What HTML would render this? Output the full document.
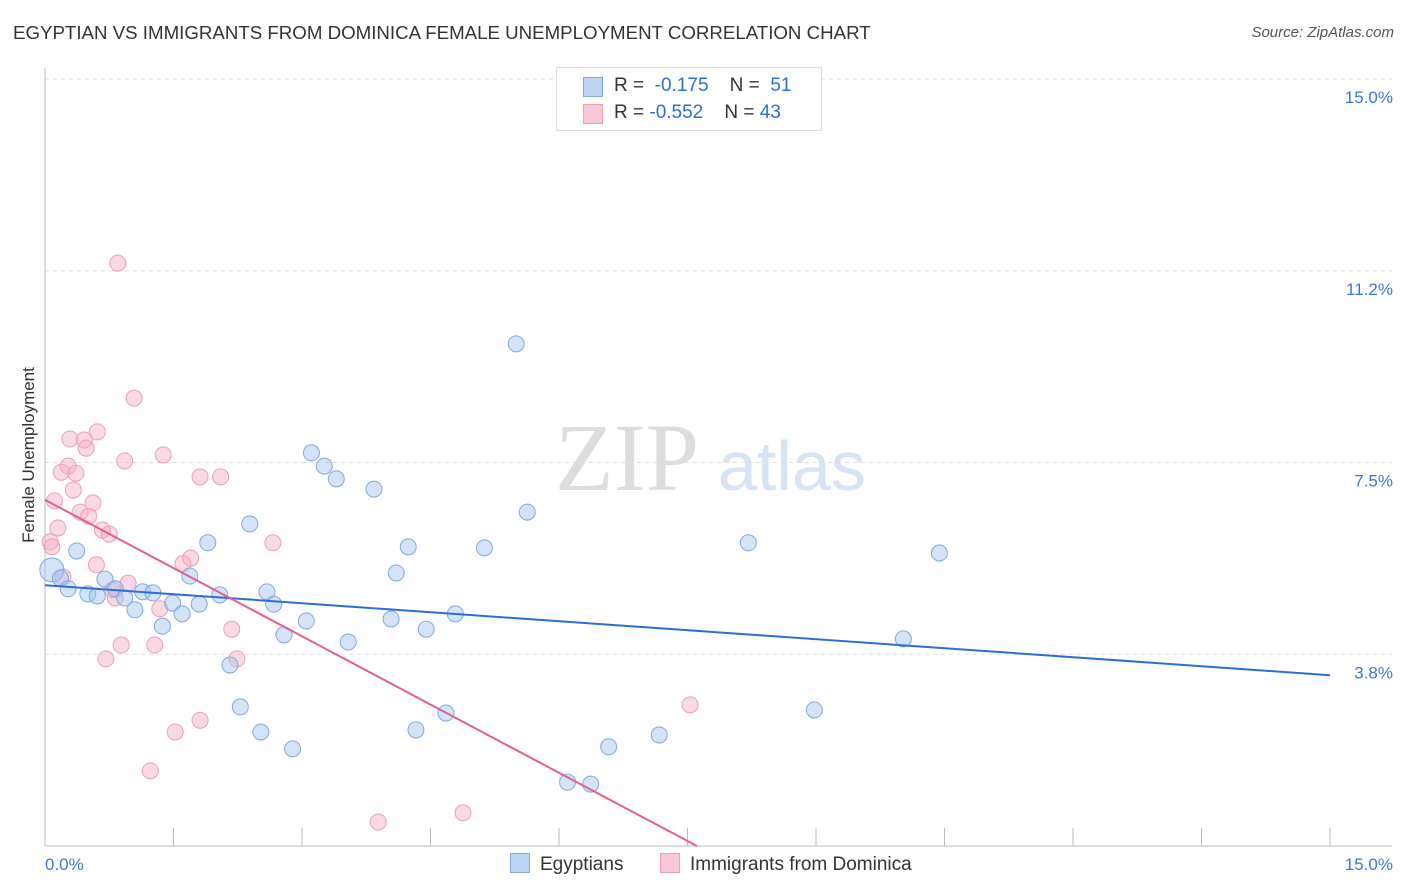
<!DOCTYPE html>
<html><head><meta charset="utf-8"><style>
body{margin:0;background:#fff;font-family:"Liberation Sans",sans-serif;}
#wrap{position:relative;width:1406px;height:892px;overflow:hidden;}
.t{position:absolute;white-space:nowrap;}
</style></head><body>
<div id="wrap">
<div class="t" style="left:13px;top:22px;font-size:18.7px;color:#333;">EGYPTIAN VS IMMIGRANTS FROM DOMINICA FEMALE UNEMPLOYMENT CORRELATION CHART</div>
<div class="t" style="right:12px;top:24px;font-size:15px;color:#555;font-style:italic;">Source: ZipAtlas.com</div>
<svg id="svg" width="1406" height="892" style="position:absolute;left:0;top:0"></svg>
</div>
<script>
const yTicks=[3.75,7.5,11.25,15];
const yTickLabels=["3.8%","7.5%","11.2%","15.0%"];
const blueX=[0.08,0.18,0.27,0.37,0.50,0.61,0.70,0.82,0.93,1.05,1.14,1.26,1.37,1.49,1.60,1.69,1.80,1.90,2.04,2.16,2.28,2.39,2.52,2.59,2.67,2.79,2.89,3.05,3.11,3.26,3.40,3.54,3.84,4.04,4.10,4.24,4.33,4.45,4.68,4.79,5.13,5.50,5.63,6.10,6.37,6.58,7.17,8.21,8.98,10.02,10.44];
const blueY=[5.40,5.24,5.03,5.77,4.93,4.89,5.22,5.03,4.85,4.62,4.97,4.95,4.30,4.75,4.54,5.28,4.73,5.93,4.91,3.54,2.72,6.30,2.23,4.97,4.73,4.13,1.90,4.40,7.69,7.43,7.18,3.99,6.98,4.44,5.34,5.85,2.27,4.24,2.60,4.54,5.83,9.82,6.53,1.25,1.21,1.94,2.17,5.93,2.66,4.05,5.73];
const pinkX=[0.85,1.04,0.61,0.29,0.46,0.48,1.38,0.93,0.27,0.19,0.36,1.81,2.05,0.33,0.11,0.56,0.41,0.51,0.15,0.67,0.75,0.06,2.66,1.70,1.61,0.60,0.21,0.97,0.79,1.34,2.18,2.24,0.71,0.89,1.28,1.81,1.52,7.53,1.23,3.89,4.88,0.82,0.08];
const pinkY=[11.40,8.76,8.10,7.96,7.94,7.78,7.65,7.53,7.43,7.31,7.29,7.22,7.22,6.96,6.75,6.71,6.53,6.45,6.22,6.18,6.10,5.95,5.93,5.63,5.52,5.50,5.26,5.14,5.01,4.64,4.24,3.66,3.66,3.93,3.93,2.46,2.23,2.76,1.47,0.47,0.65,4.85,5.85];
const blueTrend=[[0,5.10],[15,3.34]];
const pinkTrend=[[0,6.77],[7.61,0]];
const NS="http://www.w3.org/2000/svg";
const svg=document.getElementById('svg');
const X=v=>45+v/15*1285, Y=v=>846-v/15*767;
function el(tag,attrs){const e=document.createElementNS(NS,tag);for(const k in attrs)e.setAttribute(k,attrs[k]);svg.appendChild(e);return e;}
let w=el('text',{x:555,y:490,'font-size':96,'font-family':'Liberation Serif,serif',fill:'#ddd'});w.textContent='ZIP';


let w2=el('text',{x:718,y:490,'font-size':70,'font-family':'Liberation Sans,sans-serif',fill:'#d6e4f5'});w2.textContent='atlas';


yTicks.forEach((t,i)=>{
 const g=el('line',{x1:45,x2:1392,y1:Y(t),y2:Y(t),stroke:'#ddd','stroke-dasharray':'4,4'});
 
 
 const tx=el('text',{x:1393,y:Y(t)+24,'text-anchor':'end','font-size':17,fill:'#3a78d8'});tx.textContent=yTickLabels[i];
 
 
});
const ax=el('line',{x1:45,x2:1392,y1:846,y2:846,stroke:'#bbb'});


const ay=el('line',{x1:45,x2:45,y1:68,y2:846,stroke:'#bbb'});


for(let i=0;i<=10;i++){const tk=el('line',{x1:X(i*1.5),x2:X(i*1.5),y1:828,y2:846,stroke:'#bbb'});
 
 }
[['0.0%',45,'start'],['15.0%',1393,'end']].forEach(a=>{const t=el('text',{x:a[1],y:870,'text-anchor':a[2],'font-size':17,fill:'#3a78d8'});t.textContent=a[0];
 
 });
const yt=el('text',{x:34,y:455,'text-anchor':'middle','font-size':17,fill:'#333',transform:'rotate(-90 34 455)'});yt.textContent='Female Unemployment';


pinkX.forEach((v,i)=>{const c=el('circle',{cx:X(v),cy:Y(pinkY[i]),r:8,fill:'rgba(246,170,195,0.45)',stroke:'#eba0b8','stroke-width':1});
 
 });
blueX.forEach((v,i)=>{const c=el('circle',{cx:X(v),cy:Y(blueY[i]),r:i==0?12:8,fill:'rgba(160,196,240,0.45)',stroke:'#7fa9e0','stroke-width':1});
 
 });
const bl=el('line',{x1:X(blueTrend[0][0]),y1:Y(blueTrend[0][1]),x2:X(blueTrend[1][0]),y2:Y(blueTrend[1][1]),stroke:'#2b6fd6','stroke-width':2});


const pl=el('line',{x1:X(pinkTrend[0][0]),y1:Y(pinkTrend[0][1]),x2:X(pinkTrend[1][0]),y2:Y(pinkTrend[1][1]),stroke:'#e0608f','stroke-width':2});


</script>
<div class="t" style="left:556px;top:67px;width:264px;height:62px;border:1px solid #ddd;background:#fff;font-size:19px;color:#333;">
 <div style="position:absolute;left:26px;top:9px;width:18px;height:18px;background:#bcd5f5;border:1px solid #7fa9e0"></div>
 <div style="position:absolute;left:57px;top:7px">R = &nbsp;<span style="color:#2b6fd6">-0.175</span>&nbsp;&nbsp;&nbsp; N = &nbsp;<span style="color:#2b6fd6">51</span></div>
 <div style="position:absolute;left:26px;top:36px;width:18px;height:18px;background:#f9c8d7;border:1px solid #eba0b8"></div>
 <div style="position:absolute;left:57px;top:34px">R = <span style="color:#2b6fd6">-0.552</span>&nbsp;&nbsp;&nbsp; N = <span style="color:#2b6fd6">43</span></div>
</div>
<div class="t" style="left:510px;top:853px;font-size:19px;color:#333;"><span style="display:inline-block;width:18px;height:18px;background:#bcd5f5;border:1px solid #7fa9e0;vertical-align:-3px;margin-right:10px"></span>Egyptians</div>
<div class="t" style="left:660px;top:853px;font-size:19px;color:#333;"><span style="display:inline-block;width:18px;height:18px;background:#f9c8d7;border:1px solid #eba0b8;vertical-align:-3px;margin-right:10px"></span>Immigrants from Dominica</div>
</body></html>
